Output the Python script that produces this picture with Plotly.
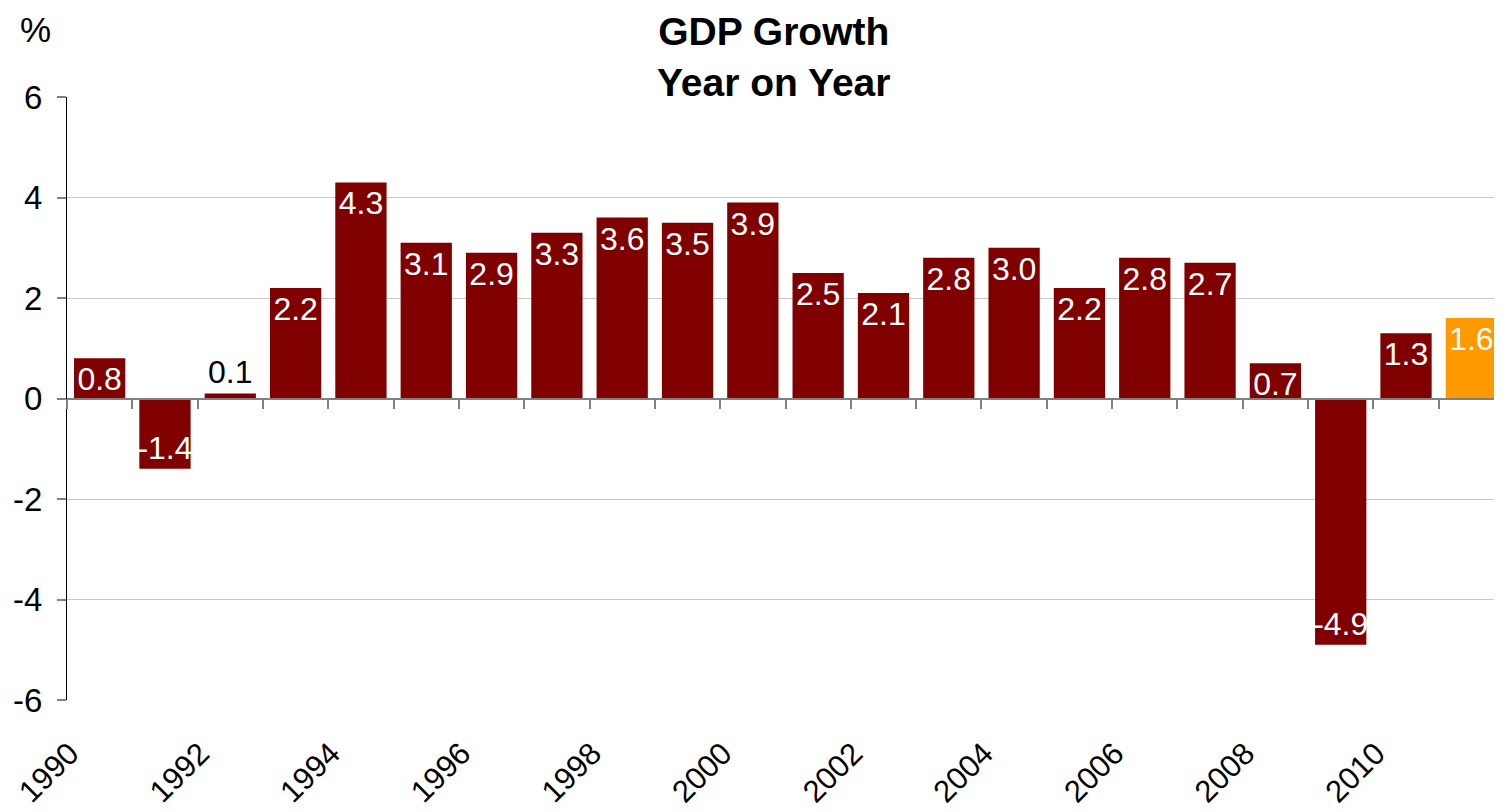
import plotly.graph_objects as go

years = [str(y) for y in range(1990, 2012)]
growth = [0.8, -1.4, 0.1, 2.2, 4.3, 3.1, 2.9, 3.3, 3.6, 3.5, 3.9, 2.5, 2.1, 2.8, 3.0, 2.2, 2.8, 2.7, 0.7, -4.9, 1.3, 1.6]
bar_colors = ["#800000"] * 21 + ["#FF9900"]
label_pos = ["outside" if abs(v) < 0.3 else "inside" for v in growth]
x_tickvals = [str(y) for y in range(1990, 2012, 2)]
y_tickvals = [-6, -4, -2, 0, 2, 4, 6]
y_ticktext = ["-6", "-4", "-2", "0", "2", "4", "6"]

FONT = "Arial, 'Liberation Sans', sans-serif"

fig = go.Figure()
fig.add_trace(go.Bar(
    x=years, y=growth,
    marker=dict(color=bar_colors, line=dict(width=0)),
    text=[f"{v:.1f}" for v in growth],
    textposition=label_pos,
    insidetextanchor="end",
    constraintext="none",
    textangle=0,
    insidetextfont=dict(color="white", size=32, family=FONT),
    outsidetextfont=dict(color="black", size=32, family=FONT),
    cliponaxis=False,
    showlegend=False,
    hoverinfo="x+y",
))
# invisible trace to carry the zero-line axis with boundary ticks
fig.add_trace(go.Scatter(
    x=years, y=growth, xaxis="x2", mode="markers",
    marker=dict(opacity=0), showlegend=False, hoverinfo="skip",
))

fig.update_layout(
    width=1502, height=812,
    margin=dict(l=59, r=6, t=89, b=120, autoexpand=False),
    paper_bgcolor="white", plot_bgcolor="white",
    bargap=0.215,
    font=dict(family=FONT, color="black"),
    xaxis=dict(
        type="category", categoryorder="array", categoryarray=years,
        range=[-0.5, 21.5], automargin=False,
        tickvals=x_tickvals, ticktext=x_tickvals,
        tickangle=-45, ticks="", showgrid=False, showline=False, zeroline=False,
        ticklabelstandoff=28, ticklabelshift=-30,
        tickfont=dict(size=31, family=FONT, color="black"),
    ),
    xaxis2=dict(
        type="category", categoryorder="array", categoryarray=years,
        range=[-0.5, 21.5], overlaying="x", anchor="free", position=0.5,
        showticklabels=False, ticks="outside", tickson="boundaries",
        ticklen=10, tickcolor="#808080", tickwidth=1.5,
        showline=True, linecolor="#808080", linewidth=1.5,
        showgrid=False, zeroline=False,
    ),
    yaxis=dict(
        range=[-6, 6], tickvals=y_tickvals, ticktext=y_ticktext, automargin=False,
        showgrid=True, gridcolor="#c8c8c8", gridwidth=1,
        showline=True, linecolor="black", linewidth=1,
        ticks="outside", ticklen=9, tickcolor="#808080", tickwidth=1.5,
        zeroline=False, ticklabelstandoff=8,
        tickfont=dict(size=33, family=FONT, color="black"),
    ),
    annotations=[
        dict(
            text="<b>GDP Growth<br>Year on Year</b>",
            xref="paper", yref="paper", x=0.4917, y=1.1476,
            xanchor="center", yanchor="top", showarrow=False,
            font=dict(size=39, family=FONT, color="black"),
        ),
        dict(
            text="%", xref="paper", yref="paper", x=-0.0341, y=1.1476,
            xanchor="left", yanchor="top", showarrow=False,
            font=dict(size=35, family=FONT, color="black"),
        ),
    ],
)

fig.write_html("out.html")
